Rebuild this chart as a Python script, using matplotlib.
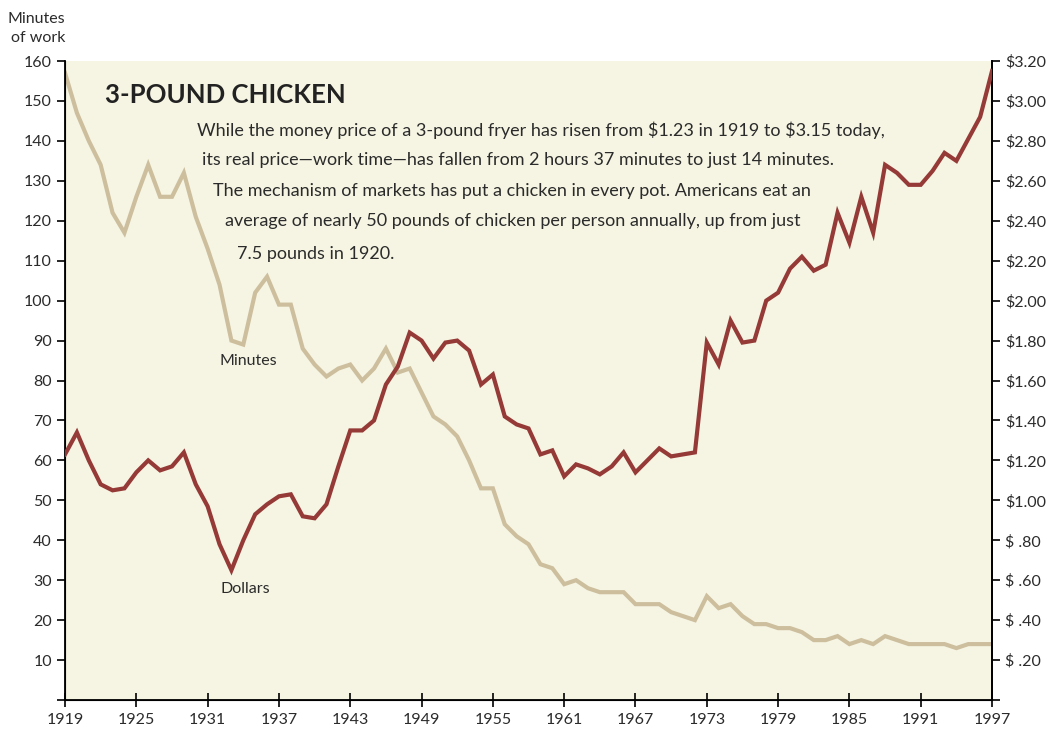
import matplotlib.pyplot as plt
import numpy as np

# data
years = np.arange(1919, 1998)
minutes = [157, 147, 140, 134, 122, 117, 126, 134, 126, 126,
           132, 121, 113, 104, 90, 89, 102, 106, 99, 99,
           88, 84, 81, 83, 84, 80, 83, 88, 82, 83,
           77, 71, 69, 66, 60, 53, 53, 44, 41, 39,
           34, 33, 29, 30, 28, 27, 27, 27, 24, 24,
           24, 22, 21, 20, 26, 23, 24, 21, 19, 19,
           18, 18, 17, 15, 15, 16, 14, 15, 14, 16,
           15, 14, 14, 14, 14, 13, 14, 14, 14]
dollars = [1.23, 1.34, 1.20, 1.08, 1.05, 1.06, 1.14, 1.20, 1.15, 1.17,
           1.24, 1.08, 0.97, 0.78, 0.65, 0.80, 0.93, 0.98, 1.02, 1.03,
           0.92, 0.91, 0.98, 1.17, 1.35, 1.35, 1.40, 1.58, 1.67, 1.84,
           1.80, 1.71, 1.79, 1.80, 1.75, 1.58, 1.63, 1.42, 1.38, 1.36,
           1.23, 1.25, 1.12, 1.18, 1.16, 1.13, 1.17, 1.24, 1.14, 1.20,
           1.26, 1.22, 1.23, 1.24, 1.79, 1.68, 1.90, 1.79, 1.80, 2.00,
           2.04, 2.16, 2.22, 2.15, 2.18, 2.44, 2.29, 2.52, 2.34, 2.68,
           2.64, 2.58, 2.58, 2.65, 2.74, 2.70, 2.81, 2.92, 3.15]
xticks = list(range(1919, 1998, 6))
left_ticks = list(range(0, 161, 10))
left_labels = [""] + [str(v) for v in left_ticks[1:]]
right_ticks = [v / 10 for v in range(0, 33, 2)]
right_labels = [""] + ["$ .%02d" % round(v * 100) if v < 1 else "$%.2f" % v
                       for v in right_ticks[1:]]

body = ["While the money price of a 3-pound fryer has risen from \\$1.23 in 1919 to \\$3.15 today,",
        "its real price\u2014work time\u2014has fallen from 2 hours 37 minutes to just 14 minutes.",
        "The mechanism of markets has put a chicken in every pot. Americans eat an",
        "average of nearly 50 pounds of chicken per person annually, up from just",
        "7.5 pounds in 1920."]

plt.rcParams['font.family'] = ['Lato', 'DejaVu Sans']
txt = "#2b2b2b"
red = "#953a37"
tan = "#cdbf9e"

fig = plt.figure(figsize=(10.47, 7.36), dpi=100)
ax = fig.add_axes([0.0621, 0.0489, 0.8854, 0.8682])
ax.set_facecolor("#f6f5e3")
ax.plot(years, minutes, color=tan, lw=3.0, solid_joinstyle='miter', zorder=2)
ax.set_xlim(1919, 1997)
ax.set_ylim(0, 160)
ax.set_yticks(left_ticks)
ax.set_yticklabels(left_labels)
ax.set_xticks(xticks)
ax.spines['top'].set_visible(False)
for s in ['left', 'right', 'bottom']:
    ax.spines[s].set_linewidth(1.3)
ax.tick_params(axis='y', direction='out', length=6, width=1.2, labelsize=11.5, labelcolor=txt)
ax.tick_params(axis='x', direction='inout', length=10, width=1.2, labelsize=11.5, labelcolor=txt, pad=4)

ax2 = ax.twinx()
ax2.plot(years, dollars, color=red, lw=3.0, solid_joinstyle='miter', zorder=3)
ax2.set_ylim(0, 3.2)
ax2.set_yticks(right_ticks)
ax2.set_yticklabels(right_labels)
ax2.spines['top'].set_visible(False)
ax2.spines['right'].set_linewidth(1.3)
ax2.tick_params(axis='y', direction='out', length=6, width=1.2, labelsize=11.5, labelcolor=txt)

ax.text(1922.4, 151.5, "3-POUND CHICKEN", fontsize=18.5, fontweight='bold', color="#222222",
        va='center', ha='left')
xs = [1930.1, 1930.5, 1931.45, 1932.45, 1933.45]
ys = [142.6, 135.1, 127.5, 120.0, 111.7]
for x, y, line in zip(xs, ys, body):
    ax.text(x, y, line, fontsize=13, color=txt, va='center', ha='left')
ax.text(1932.0, 85, "Minutes", fontsize=11.5, color=txt, va='center', ha='left')
ax.text(1932.1, 27.8, "Dollars", fontsize=11.5, color=txt, va='center', ha='left')
fig.text(0.062, 0.984, "Minutes\nof work", fontsize=11.5, color=txt, ha='right', va='top',
         multialignment='right', linespacing=1.45)

fig.savefig("out.png", dpi=100, facecolor="white")
